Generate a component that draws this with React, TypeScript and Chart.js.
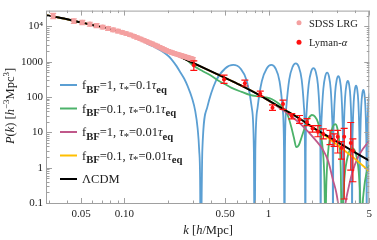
import React, { useEffect, useRef } from 'react';
import { Chart, registerables } from 'chart.js';

Chart.register(...registerables);

const SERIF = '"Liberation Serif", "Times New Roman", Times, serif';

// ---------- axis ticks ----------
const X_MIN = 0.029, X_MAX = 5, Y_MIN = 0.1, Y_MAX = 28000;
const xTickVals = [0.05, 0.1, 0.5, 1, 5];
const xTickLabels = ['0.05', '0.10', '0.50', '1', '5'];
const xMinorVals = [0.03, 0.04, 0.06, 0.07, 0.08, 0.09, 0.2, 0.3, 0.4, 0.6, 0.7, 0.8, 0.9, 2, 3, 4];
const yTickVals = [0.1, 1, 10, 100, 1000, 10000];
const yTickLabels = ['0.1', '1', '10', '100', '1000', '10⁴'];
const yMinorMult = [2, 3, 4, 5, 6, 7, 8, 9];

// ---------- LCDM ----------
const kLCDM = [0.029, 0.035, 0.048, 0.06, 0.081, 0.1, 0.13, 0.17, 0.23, 0.3, 0.4, 0.5, 0.6, 0.7, 0.87, 1.0, 1.16, 1.4, 1.7, 2.1, 2.5, 3.0, 3.5, 4.0, 4.5, 5.0];
const pLCDM = [20400, 17800, 13400, 11000, 8300, 6500, 4300, 2800, 1550, 920, 530, 350, 245, 180, 112, 80, 56, 36, 22.4, 12.6, 8.3, 5.35, 3.7, 2.68, 2.02, 1.58];

// ---------- fBF=0.1, tau=0.01 tau_eq (yellow) ----------
const kYellow = [0.029, 0.035, 0.048, 0.06, 0.081, 0.1, 0.13, 0.17, 0.23, 0.3, 0.4, 0.5, 0.6, 0.7, 0.87, 1.0, 1.16, 1.4, 1.7, 2.1, 2.5, 3.0, 3.5, 4.0, 4.5, 5.0];
const pYellow = [20400, 17800, 13400, 11000, 8300, 6500, 4300, 2800, 1550, 920, 530, 350, 245, 180, 112, 80, 56, 36, 22.4, 12.5, 7.7, 4.4, 2.7, 1.75, 1.15, 0.79];

// ---------- fBF=1, tau=0.01 tau_eq (purple) ----------
const kPurple = [0.029, 0.035, 0.048, 0.06, 0.081, 0.1, 0.13, 0.17, 0.23, 0.3, 0.4, 0.5, 0.6, 0.7, 0.87, 1.0, 1.16, 1.4, 1.7, 2.1, 2.4, 2.6, 2.8, 2.95, 3.05, 3.15, 3.2, 3.26, 3.4, 3.57, 3.8, 4.17, 4.5, 5.0];
const pPurple = [20400, 17800, 13400, 11000, 8300, 6500, 4300, 2800, 1550, 920, 530, 350, 245, 180, 112, 79, 53, 31, 16, 6.3, 3.1, 1.5, 0.45, 0.2, 0.08, 0.01, 0.002, 0.01, 0.08, 0.24, 0.7, 1.95, 3.3, 5.8];

// ---------- fBF=0.1, tau=0.1 tau_eq (green) ----------
const kGreen = [0.029, 0.035, 0.048, 0.06, 0.081, 0.1, 0.13, 0.17, 0.23, 0.27, 0.3, 0.35, 0.4, 0.45, 0.5, 0.55, 0.65, 0.74, 0.85, 0.95, 1.05, 1.15, 1.26, 1.36, 1.44, 1.5, 1.56, 1.62, 1.7, 1.8, 1.9, 2.0, 2.1, 2.2, 2.3, 2.38, 2.44, 2.48, 2.52, 2.58, 2.68, 2.8, 2.9, 3.0, 3.1, 3.17, 3.22, 3.27, 3.36, 3.57, 3.81, 4.05, 4.26, 4.36, 4.4, 4.45, 4.6, 4.8, 5.0];
const pGreen = [20400, 17800, 13400, 11000, 8300, 6500, 4300, 2800, 1550, 1120, 780, 540, 400, 290, 230, 185, 140, 115, 104, 98, 88, 70, 50, 30, 14, 7, 3.8, 4.3, 7.5, 15, 25, 31, 28, 19.5, 9.5, 3.2, 0.53, 0.02, 0.38, 2.3, 7.8, 14.7, 17, 13.3, 5.2, 1.0, 0.02, 0.06, 0.48, 2.34, 3.6, 2.34, 0.48, 0.04, 0.002, 0.03, 0.25, 0.75, 1.2];

// ---------- fBF=1, tau=0.1 tau_eq (blue) ----------
const kBlue = [
  0.029, 0.035, 0.048, 0.06, 0.081, 0.1, 0.13, 0.145, 0.165, 0.18, 0.2, 0.21, 0.23, 0.246, 0.26, 0.275, 0.295, 0.31, 0.322, 0.33, 0.335, 0.338,
  0.3472, 0.375, 0.4304, 0.4997, 0.569, 0.6383, 0.7076, 0.765, 0.7908, 0.80,
  0.8098, 0.8392, 0.898, 0.9715, 1.045, 1.1185, 1.192, 1.2508, 1.2802, 1.29,
  1.3002, 1.3308, 1.392, 1.4685, 1.545, 1.6215, 1.698, 1.7592, 1.7898, 1.80,
  1.81, 1.84, 1.90, 1.975, 2.05, 2.125, 2.20, 2.26, 2.29, 2.30,
  2.31, 2.34, 2.40, 2.475, 2.55, 2.625, 2.70, 2.76, 2.79, 2.80,
  2.81, 2.84, 2.90, 2.975, 3.05, 3.125, 3.20, 3.26, 3.29, 3.30,
  3.31, 3.34, 3.40, 3.475, 3.55, 3.625, 3.70, 3.76, 3.79, 3.80,
  3.81, 3.84, 3.90, 3.975, 4.05, 4.125, 4.20, 4.26, 4.29, 4.30,
  4.31, 4.34, 4.40, 4.475, 4.55, 4.625, 4.70, 4.76, 4.79, 4.80,
  4.81, 4.84, 4.90, 4.975, 5.05, 5.125,
];
const pBlue = [
  20400, 17800, 13400, 11000, 8300, 6500, 4300, 3200, 2500, 2050, 1500, 1230, 750, 480, 330, 200, 91, 40, 13, 3.2, 0.45, 0.002,
  3.19, 50.1, 280, 643, 810, 643, 280, 50.1, 3.19, 0.002,
  3.19, 50.1, 280, 643, 810, 643, 280, 50.1, 3.19, 0.002,
  3.55, 55.6, 311, 715, 900, 715, 311, 55.6, 3.55, 0.002,
  2.6, 40.8, 228, 524, 660, 524, 228, 40.8, 2.6, 0.002,
  1.93, 30.3, 169, 389, 490, 389, 169, 30.3, 1.93, 0.002,
  1.54, 24.1, 135, 310, 390, 310, 135, 24.1, 1.54, 0.002,
  1.12, 17.6, 98.5, 226, 285, 226, 98.5, 17.6, 1.12, 0.002,
  0.82, 12.9, 72.2, 166, 209, 166, 72.2, 12.9, 0.82, 0.002,
  0.63, 9.8, 54.9, 126, 159, 126, 54.9, 9.8, 0.63, 0.002,
  0.49, 7.7, 42.8, 98.5, 124, 98.5,
];

// ---------- SDSS LRG ----------
const kLRG = [0.032, 0.0445, 0.051, 0.0575, 0.064, 0.0705, 0.077, 0.0835, 0.09, 0.0965, 0.103, 0.1095, 0.116, 0.1225, 0.129, 0.1355, 0.142, 0.1485, 0.155, 0.1615, 0.168, 0.1745, 0.181, 0.1875, 0.194, 0.2005, 0.207, 0.2135, 0.22, 0.2265, 0.233, 0.2395, 0.246, 0.2525, 0.259, 0.2655, 0.272, 0.2785, 0.285, 0.2915, 0.298];
const pLRG = [20000, 14200, 13000, 11600, 10600, 9600, 8800, 8000, 7400, 6800, 6300, 5800, 5300, 4850, 4450, 4100, 3800, 3500, 3250, 3000, 2800, 2600, 2420, 2260, 2120, 2000, 1900, 1820, 1750, 1680, 1620, 1560, 1510, 1460, 1420, 1380, 1340, 1300, 1260, 1220, 1180];
const errLRG = [0.17, 0.15, 0.14, 0.13, 0.13, 0.12, 0.12, 0.11, 0.11, 0.1, 0.1, 0.1, 0.1, 0.1, 0.1, 0.1, 0.1, 0.1, 0.1, 0.1, 0.1, 0.1, 0.1, 0.1, 0.1, 0.1, 0.1, 0.1, 0.1, 0.1, 0.1, 0.1, 0.1, 0.1, 0.1, 0.1, 0.1, 0.1, 0.1, 0.1, 0.1];

// ---------- Lyman-alpha ----------
const kLya = [0.303, 0.491, 0.685, 0.876, 1.065, 1.26, 1.45, 1.64, 1.85, 2.02, 2.2, 2.4, 2.67, 2.85, 3.02, 3.21, 3.35, 3.72, 3.85];
const pLya = [800, 316, 247, 124, 50, 64, 29, 23, 19.5, 12.8, 10.4, 9.0, 7.5, 6.0, 7.5, 3.6, 7.5, 5.0, 3.0];
const loLya = [570, 245, 205, 105, 42, 45, 24, 18, 15.5, 10.2, 7.5, 6.5, 4.5, 4.0, 2.6, 1.75, 0.13, 0.85, 0.4];
const hiLya = [1060, 415, 300, 147, 60, 82, 34, 30, 24.5, 15.6, 15.6, 12.5, 11.4, 9.0, 11.4, 5.5, 13, 19, 6.5];

// ---------- colours ----------
const C_BLUE = '#5B9FD3';
const C_GREEN = '#4CB26A';
const C_PURPLE = '#C0588A';
const C_YELLOW = '#FFBF00';
const C_BLACK = '#000000';
const C_LRG = '#F4A0A0';
const C_LYA = '#FF1010';

const pts = (ks: number[], ps: number[]) => ks.map((k, i) => ({ x: k, y: ps[i] }));

type Seg = { t: string; i?: boolean; b?: boolean; sub?: boolean; sup?: boolean };

function segFont(s: Seg, size: number) {
  const sz = s.sub ? size * 0.85 : s.sup ? size * 0.72 : size;
  return `${s.i ? 'italic ' : ''}${s.b ? 'bold ' : ''}${sz}px ${SERIF}`;
}
function richWidth(ctx: CanvasRenderingContext2D, segs: Seg[], size: number) {
  let w = 0;
  for (const s of segs) { ctx.font = segFont(s, size); w += ctx.measureText(s.t).width; }
  return w;
}
function drawRich(ctx: CanvasRenderingContext2D, segs: Seg[], x: number, y: number, size: number) {
  let cx = x;
  ctx.textBaseline = 'alphabetic';
  ctx.textAlign = 'left';
  for (const s of segs) {
    ctx.font = segFont(s, size);
    const dy = s.sub ? size * 0.28 : s.sup ? -size * 0.4 : 0;
    ctx.fillText(s.t, cx, y + dy);
    cx += ctx.measureText(s.t).width;
  }
}

const legLabel = (f: string, t: string): Seg[] => [
  { t: 'f' }, { t: 'BF', sub: true, b: true }, { t: '=' + f + ', ' },
  { t: 'τ', i: true }, { t: '*', sub: true }, { t: '=' + t },
  { t: 'τ', i: true }, { t: 'eq', sub: true, b: true },
];

const lineLegend: { color: string; segs: Seg[] }[] = [
  { color: C_BLUE, segs: legLabel('1', '0.1') },
  { color: C_GREEN, segs: legLabel('0.1', '0.1') },
  { color: C_PURPLE, segs: legLabel('1', '0.01') },
  { color: C_YELLOW, segs: legLabel('0.1', '0.01') },
  { color: C_BLACK, segs: [{ t: 'ΛCDM' }] },
];

const errPlugin = {
  id: 'errbars',
  beforeDatasetDraw(chart: any, args: any) {
    const ds = chart.data.datasets[args.index];
    if (!ds.errLo) return;
    const { ctx, chartArea, scales } = chart;
    ctx.save();
    ctx.beginPath();
    ctx.rect(chartArea.left, chartArea.top, chartArea.right - chartArea.left, chartArea.bottom - chartArea.top);
    ctx.clip();
    ctx.strokeStyle = ds.errColor;
    ctx.lineWidth = ds.errWidth;
    const cw = ds.capW;
    ds.data.forEach((p: any, i: number) => {
      const x = scales.x.getPixelForValue(p.x);
      const y1 = scales.y.getPixelForValue(ds.errLo[i]);
      const y2 = scales.y.getPixelForValue(ds.errHi[i]);
      ctx.beginPath();
      ctx.moveTo(x, y1); ctx.lineTo(x, y2);
      ctx.moveTo(x - cw, y1); ctx.lineTo(x + cw, y1);
      ctx.moveTo(x - cw, y2); ctx.lineTo(x + cw, y2);
      ctx.stroke();
    });
    ctx.restore();
  },
};

const framePlugin = {
  id: 'frame',
  afterDatasetsDraw(chart: any) {
    const { ctx, chartArea, scales } = chart;
    const { left, right, top, bottom } = chartArea;
    ctx.save();
    ctx.strokeStyle = '#a0a0a0';
    ctx.lineWidth = 1;
    ctx.strokeRect(left - 0.5, top + 0.5, right - left, bottom - top);
    ctx.beginPath();
    const xt = (v: number, len: number) => {
      const x = Math.round(scales.x.getPixelForValue(v)) + 0.5;
      ctx.moveTo(x, bottom); ctx.lineTo(x, bottom - len);
      ctx.moveTo(x, top); ctx.lineTo(x, top + len);
    };
    const yt = (v: number, len: number) => {
      const y = Math.round(scales.y.getPixelForValue(v)) + 0.5;
      ctx.moveTo(left, y); ctx.lineTo(left + len, y);
      ctx.moveTo(right, y); ctx.lineTo(right - len, y);
    };
    xTickVals.forEach(v => xt(v, 5));
    xMinorVals.forEach(v => xt(v, 2.5));
    yTickVals.forEach(v => yt(v, 5));
    yTickVals.forEach(d => yMinorMult.forEach(m => { if (d * m < Y_MAX) yt(d * m, 2.5); }));
    ctx.stroke();
    ctx.restore();
  },
  afterDraw(chart: any) {
    const { ctx, chartArea } = chart;
    ctx.save();
    ctx.fillStyle = '#222';
    // axis titles
    const xt: Seg[] = [{ t: 'k', i: true }, { t: ' [' }, { t: 'h', i: true }, { t: '/Mpc]' }];
    const xw = richWidth(ctx, xt, 12.5);
    drawRich(ctx, xt, (chartArea.left + chartArea.right) / 2 - xw / 2, 234, 12.5);
    const yt: Seg[] = [{ t: 'P', i: true }, { t: '(' }, { t: 'k', i: true }, { t: ') [' }, { t: 'h', i: true }, { t: '−3', sup: true }, { t: 'Mpc' }, { t: '3', sup: true }, { t: ']' }];
    const yw = richWidth(ctx, yt, 12.5);
    ctx.save();
    ctx.translate(14, 106);
    ctx.rotate(-Math.PI / 2);
    drawRich(ctx, yt, -yw / 2, 0, 12.5);
    ctx.restore();

    // line legend
    lineLegend.forEach((row, i) => {
      const y = 85 + i * 23.5;
      ctx.strokeStyle = row.color;
      ctx.lineWidth = 2;
      ctx.beginPath();
      ctx.moveTo(60, y); ctx.lineTo(77, y);
      ctx.stroke();
      ctx.fillStyle = '#222';
      drawRich(ctx, row.segs, 82, y + 4, 12.5);
    });

    // data legend
    ctx.fillStyle = C_LRG;
    ctx.beginPath(); ctx.arc(299, 22.7, 2.5, 0, Math.PI * 2); ctx.fill();
    ctx.fillStyle = C_LYA;
    ctx.beginPath(); ctx.arc(299, 42.3, 2.5, 0, Math.PI * 2); ctx.fill();
    ctx.fillStyle = '#222';
    drawRich(ctx, [{ t: 'SDSS LRG' }], 309, 26.5, 10.5);
    drawRich(ctx, [{ t: 'Lyman-' }, { t: 'α', i: true }], 309, 46, 10.5);
    ctx.restore();
  },
};

const lineDs = (label: string, ks: number[], ps: number[], color: string, order: number, width = 1.8) => ({
  label,
  data: pts(ks, ps),
  borderColor: color,
  backgroundColor: color,
  borderWidth: width,
  pointRadius: 0,
  fill: false,
  cubicInterpolationMode: 'monotone',
  order,
});

export default function App() {
  const ref = useRef<HTMLCanvasElement>(null);
  useEffect(() => {
    const canvas = ref.current;
    if (!canvas) return;
    const chart = new Chart(canvas, {
      type: 'line',
      data: {
        datasets: [
          {
            label: 'Lyman-α',
            data: pts(kLya, pLya),
            showLine: false,
            pointRadius: 2,
            pointBackgroundColor: C_LYA,
            pointBorderWidth: 0,
            errLo: loLya, errHi: hiLya, errColor: C_LYA, errWidth: 1.2, capW: 3.5,
            order: 0,
          } as any,
          {
            label: 'SDSS LRG',
            data: pts(kLRG, pLRG),
            showLine: false,
            pointRadius: 2.6,
            pointBackgroundColor: C_LRG,
            pointBorderWidth: 0,
            errLo: pLRG.map((p, i) => p * (1 - errLRG[i])),
            errHi: pLRG.map((p, i) => p * (1 + errLRG[i])),
            errColor: C_LRG, errWidth: 1.2, capW: 3,
            order: 1,
          } as any,
          lineDs('ΛCDM', kLCDM, pLCDM, C_BLACK, 2, 2),
          lineDs('fBF=0.1, τ*=0.01τeq', kYellow, pYellow, C_YELLOW, 3),
          lineDs('fBF=1, τ*=0.01τeq', kPurple, pPurple, C_PURPLE, 4),
          lineDs('fBF=0.1, τ*=0.1τeq', kGreen, pGreen, C_GREEN, 5),
          lineDs('fBF=1, τ*=0.1τeq', kBlue, pBlue, C_BLUE, 6),
        ] as any,
      },
      options: {
        animation: false,
        responsive: false,
        devicePixelRatio: 1,
        layout: { padding: { left: 0, right: 4, top: 3, bottom: 0 } },
        plugins: { legend: { display: false }, tooltip: { enabled: false } },
        scales: {
          x: {
            type: 'logarithmic',
            min: X_MIN,
            max: X_MAX,
            grid: { display: false, drawTicks: false },
            border: { display: false },
            afterBuildTicks: (s: any) => { s.ticks = xTickVals.map(v => ({ value: v })); },
            afterFit: (s: any) => { s.height = 37; },
            ticks: {
              autoSkip: false, maxRotation: 0, minRotation: 0, padding: 5, color: '#222',
              font: { family: SERIF, size: 11 },
              callback: (_v: any, i: number) => xTickLabels[i],
            },
          },
          y: {
            type: 'logarithmic',
            min: Y_MIN,
            max: Y_MAX,
            grid: { display: false, drawTicks: false },
            border: { display: false },
            afterBuildTicks: (s: any) => { s.ticks = yTickVals.map(v => ({ value: v })); },
            afterFit: (s: any) => { s.width = 47; },
            ticks: {
              autoSkip: false, padding: 4, color: '#222',
              font: { family: SERIF, size: 11 },
              callback: (_v: any, i: number) => yTickLabels[i],
            },
          },
        },
      } as any,
      plugins: [errPlugin, framePlugin] as any,
    });
    return () => chart.destroy();
  }, []);
  return (
    <canvas
      ref={ref}
      width={377}
      height={240}
      style={{ position: 'absolute', left: 0, top: 0, width: 377, height: 240 }}
    />
  );
}
